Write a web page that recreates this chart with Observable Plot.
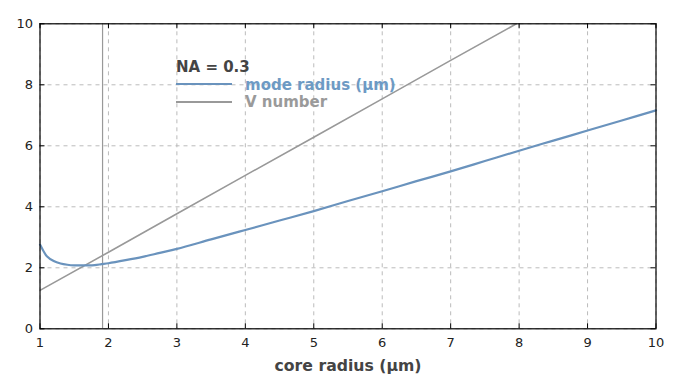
<!DOCTYPE html>
<html><head><meta charset="utf-8">
<script src="https://cdn.jsdelivr.net/npm/d3@7"></script>
<script src="https://cdn.jsdelivr.net/npm/@observablehq/plot@0.6"></script>
<style>
body{margin:0;background:#fff;font-family:"DejaVu Sans",sans-serif;}
#wrap{position:relative;width:700px;height:375px;}
.leg{position:absolute;font-weight:bold;font-size:15px;line-height:17px;white-space:nowrap;}
.lline{position:absolute;height:2px;}
</style></head><body><div id="wrap"></div>
<script>
// data
const coreRadius = [1.0,1.05,1.1,1.2,1.3,1.4,1.5,1.6,1.7,1.8,1.9,2.0,2.25,2.5,2.75,3.0,3.5,4.0,4.5,5.0,5.5,6.0,6.5,7.0,7.5,8.0,8.5,9.0,9.5,10.0];
const modeRadius = [2.76,2.55,2.38,2.22,2.14,2.10,2.08,2.08,2.08,2.09,2.12,2.15,2.25,2.36,2.49,2.62,2.93,3.24,3.55,3.86,4.19,4.51,4.84,5.16,5.50,5.84,6.17,6.50,6.83,7.16];
const vRadius = [1,2,3,4,5,6,7,7.96];
const vNumber = [1.26,2.51,3.77,5.03,6.28,7.54,8.80,10.0];
const cutoffRadius = [1.914];
const xTicks = [1,2,3,4,5,6,7,8,9,10];
const yTicks = [0,2,4,6,8,10];
const xLabel = "core radius (µm)";
const legendTitle = "NA = 0.3";
const seriesNames = ["mode radius (µm)", "V number"];

const modeData = coreRadius.map((x,i)=>({x, y: modeRadius[i]}));
const vData = vRadius.map((x,i)=>({x, y: vNumber[i]}));

const blue = "#6a93bd", gray = "#999999";
const W = 700, H = 375, mL = 39.5, mR = 44.5, mT = 23.3, mB = 46.7;
const fw = W - mL - mR, fh = H - mT - mB, tk = 5;

const chart = Plot.plot({
  width: W, height: H,
  marginLeft: mL, marginRight: mR, marginTop: mT, marginBottom: mB,
  style: {fontFamily: "DejaVu Sans, sans-serif", fontSize: "13px", color: "#222", background: "#fff"},
  x: {domain: [1,10], ticks: xTicks, label: null},
  y: {domain: [0,10], ticks: yTicks, label: null},
  marks: [
    Plot.gridX(xTicks, {stroke: "#bbb", strokeOpacity: 1, strokeDasharray: "4,4"}),
    Plot.gridY(yTicks, {stroke: "#bbb", strokeOpacity: 1, strokeDasharray: "4,4"}),
    Plot.ruleX(cutoffRadius, {stroke: gray, strokeWidth: 1.2}),
    Plot.line(vData, {x: "x", y: "y", stroke: gray, strokeWidth: 1.6, clip: true}),
    Plot.line(modeData, {x: "x", y: "y", stroke: blue, strokeWidth: 2.2, curve: "catmull-rom"}),
    Plot.frame({stroke: "#000", strokeWidth: 1.2}),
    Plot.tickX(xTicks, {x: d => d, insetTop: fh - tk, stroke: "#000"}),
    Plot.tickX(xTicks, {x: d => d, insetBottom: fh - tk, stroke: "#000"}),
    Plot.tickY(yTicks, {y: d => d, insetRight: fw - tk, stroke: "#000"}),
    Plot.tickY(yTicks, {y: d => d, insetLeft: fw - tk, stroke: "#000"}),
    Plot.axisX(xTicks, {anchor: "bottom", tickSize: 0, tickPadding: 9, label: null, fill: "#222"}),
    Plot.axisY(yTicks, {anchor: "left", tickSize: 0, tickPadding: 7, label: null, fill: "#222"}),
    Plot.text([xLabel], {frameAnchor: "bottom", lineAnchor: "bottom", dy: 42, fontWeight: "bold", fontSize: 15.7, fill: "#444"})
  ]
});
const wrap = document.getElementById("wrap");
wrap.appendChild(chart);

function addText(t, left, top, color){
  const d = document.createElement("div");
  d.className = "leg"; d.textContent = t;
  d.style.left = left + "px"; d.style.top = top + "px"; d.style.color = color;
  wrap.appendChild(d);
}
function addLine(left, top, w, color){
  const d = document.createElement("div");
  d.className = "lline";
  d.style.left = left + "px"; d.style.top = top + "px"; d.style.width = w + "px"; d.style.background = color;
  wrap.appendChild(d);
}
addText(legendTitle, 176, 58.5, "#444");
addLine(176, 82.5, 56, blue);
addText(seriesNames[0], 245, 77, "#6d9ac4");
addLine(176, 100.5, 56, gray);
addText(seriesNames[1], 245, 94, "#9a9a9a");
</script>
</body></html>
